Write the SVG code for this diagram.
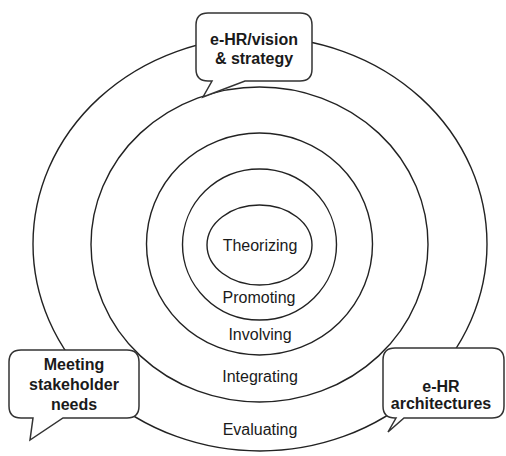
<svg xmlns="http://www.w3.org/2000/svg" width="506" height="456" viewBox="0 0 506 456">
<style>
.ring{fill:none;stroke:#222;stroke-width:1.4}
.bub{fill:#fff;stroke:#333;stroke-width:1.5;stroke-linejoin:miter}
.lbl{font-family:"Liberation Sans",Arial,sans-serif;font-size:16px;fill:#1a1a1a;text-anchor:middle}
.bt{font-family:"Liberation Sans",Arial,sans-serif;font-size:16px;font-weight:bold;fill:#1a1a1a;text-anchor:middle}
</style>
<rect width="506" height="456" fill="#fff"/>
<g id="rings">
<g id="evaluating"><ellipse class="ring" cx="260" cy="244" rx="227" ry="207"/><text class="lbl" x="260" y="435">Evaluating</text></g>
<g id="integrating"><ellipse class="ring" cx="259.5" cy="244.5" rx="168.5" ry="157.5"/><text class="lbl" x="260" y="382">Integrating</text></g>
<g id="involving"><ellipse class="ring" cx="259.5" cy="244" rx="113" ry="111"/><text class="lbl" x="260" y="340">Involving</text></g>
<g id="promoting"><ellipse class="ring" cx="259.5" cy="244.5" rx="77" ry="75.5"/><text class="lbl" x="259" y="303">Promoting</text></g>
<g id="theorizing"><ellipse class="ring" cx="259.5" cy="245" rx="52.5" ry="40"/><text class="lbl" x="260" y="251">Theorizing</text></g>
</g>
<g id="callout-vision">
<path class="bub" d="M208 13 H300 Q312 13 312 25 V69 Q312 81 300 81 H245 L203 97 L212 81 H208 Q196 81 196 69 V25 Q196 13 208 13 Z"/>
<text class="bt" x="254" y="45">e-HR/vision</text>
<text class="bt" x="254" y="64">&amp; strategy</text>
</g>
<g id="callout-stakeholder">
<path class="bub" d="M21 350 H127 Q139 350 139 362 V406 Q139 418 127 418 H63 L30 440 L33 418 H21 Q9 418 9 406 V362 Q9 350 21 350 Z"/>
<text class="bt" x="74" y="370">Meeting</text>
<text class="bt" x="74" y="390">stakeholder</text>
<text class="bt" x="74" y="410">needs</text>
</g>
<g id="callout-architectures">
<path class="bub" d="M395 348 H492 Q504 348 504 360 V406 Q504 418 492 418 H404 L388 432 L396 418 H395 Q383 418 383 406 V360 Q383 348 395 348 Z"/>
<text class="bt" x="441" y="392">e-HR</text>
<text class="bt" x="441" y="409">architectures</text>
</g>
<g id="connectors"></g>
</svg>
